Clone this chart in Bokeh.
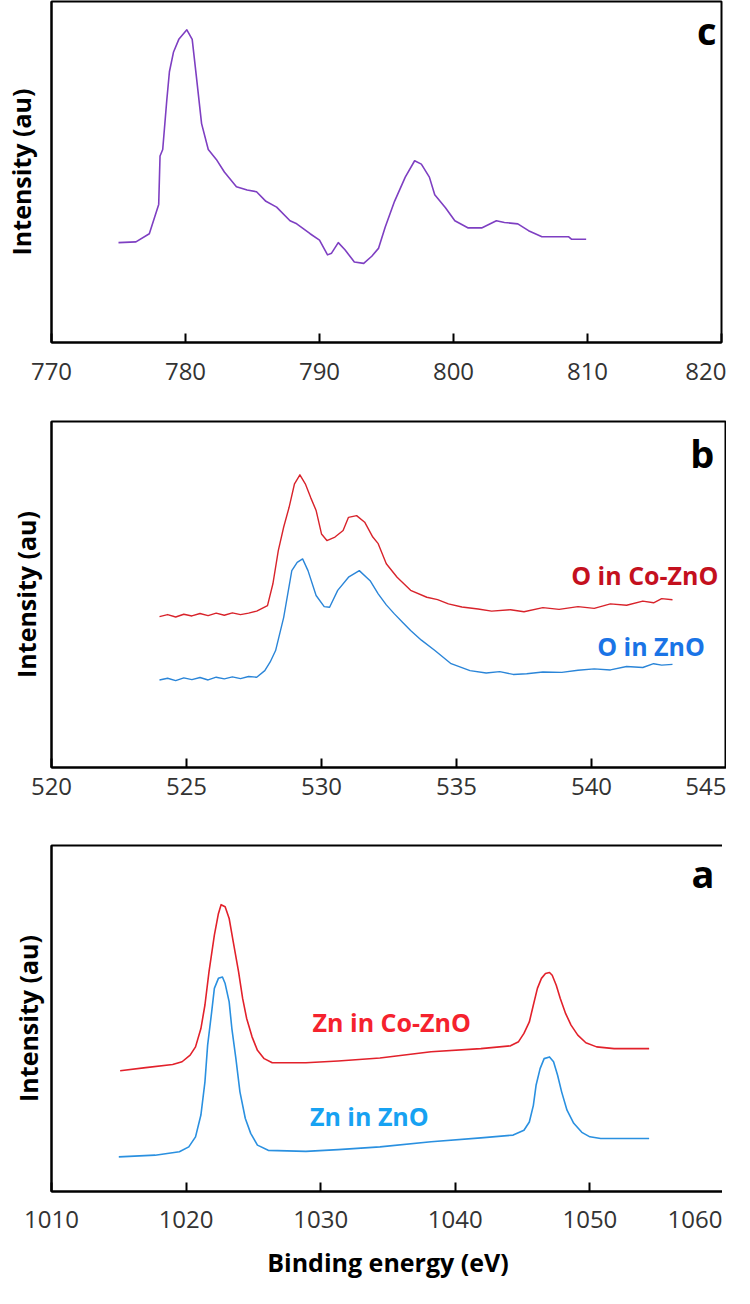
from bokeh.plotting import figure
from bokeh.layouts import column
from bokeh.models import Range1d, FixedTicker, Label
from bokeh.embed import file_html
from bokeh.resources import INLINE

# ---------------- data ----------------
# panel c (Co 2p)
c_x = [775.0, 776.3, 777.3, 778.0, 778.1, 778.3, 778.6, 778.8, 779.1, 779.5, 780.1, 780.5, 780.8, 781.2,
       781.7, 782.3, 782.9, 783.8, 784.6, 785.3, 786.0, 786.8, 787.8, 788.3, 789.3, 790.0, 790.6, 790.9,
       791.4, 791.9, 792.6, 793.3, 793.9, 794.4, 794.9, 795.6, 796.4, 797.1, 797.6, 798.2, 798.6, 799.4,
       800.1, 801.1, 802.1, 803.2, 803.8, 804.8, 805.6, 806.6, 808.6, 808.8, 809.9]
c_y = [29.3, 29.5, 31.9, 40.5, 54.7, 56.6, 70.9, 79.4, 85.1, 88.9, 91.7, 88.9, 78.4, 64.2,
       56.6, 53.7, 50.0, 45.7, 44.7, 44.2, 41.4, 39.7, 35.7, 34.8, 31.9, 30.0, 25.7, 26.2,
       29.3, 27.2, 23.6, 23.2, 25.3, 27.6, 33.8, 41.4, 48.5, 53.3, 52.3, 48.5, 43.3, 39.5,
       35.7, 33.6, 33.6, 35.7, 35.2, 34.8, 32.8, 31.0, 31.0, 30.3, 30.3]
c_ticks = [770, 780, 790, 800, 810, 820]

# panel b (O 1s)
b_co_x = [524.0, 524.3, 524.6, 524.9, 525.2, 525.5, 525.8, 526.1, 526.4, 526.7, 527.0, 527.3, 527.6, 527.8,
          528.0, 528.2, 528.4, 528.6, 528.8, 529.0, 529.2, 529.4, 529.6, 529.8, 530.0, 530.2, 530.5, 530.8,
          531.0, 531.3, 531.6, 531.9, 532.1, 532.4, 532.8, 533.3, 533.9, 534.3, 534.7, 535.2, 535.8, 536.3,
          537.0, 537.5, 538.2, 538.8, 539.5, 540.1, 540.7, 541.3, 541.9, 542.3, 542.6, 543.0]
b_co_y = [43.6, 44.2, 43.5, 44.3, 43.8, 44.5, 43.9, 44.6, 44.0, 44.7, 44.2, 44.6, 45.2, 46.0,
          46.8, 53.1, 62.7, 69.5, 75.2, 82.0, 84.6, 82.0, 78.0, 74.3, 67.5, 65.6, 66.6, 68.5,
          72.3, 72.8, 70.9, 66.6, 64.7, 58.9, 55.0, 51.2, 49.2, 48.5, 47.3, 46.4, 45.8, 45.2,
          45.6, 45.0, 46.2, 45.7, 46.5, 46.0, 47.3, 46.9, 48.1, 47.6, 48.8, 48.5]
b_zn_x = [524.0, 524.3, 524.6, 524.9, 525.2, 525.5, 525.8, 526.1, 526.4, 526.7, 527.0, 527.3, 527.6, 527.9,
          528.1, 528.3, 528.6, 528.9, 529.1, 529.3, 529.5, 529.8, 530.1, 530.3, 530.6, 531.0, 531.4, 531.8,
          532.1, 532.4, 532.7, 533.0, 533.3, 533.7, 534.2, 534.8, 535.5, 536.1, 536.6, 537.1, 537.6, 538.2,
          538.9, 539.5, 540.1, 540.7, 541.3, 541.9, 542.3, 542.6, 543.0]
b_zn_y = [25.3, 25.8, 25.1, 25.9, 25.4, 26.0, 25.3, 26.1, 25.6, 26.2, 25.7, 26.3, 26.1, 28.0,
          30.5, 33.8, 43.4, 56.9, 59.3, 60.3, 56.9, 49.7, 46.5, 46.3, 51.2, 55.0, 56.9, 54.0,
          50.2, 47.0, 44.4, 42.0, 39.6, 36.8, 33.8, 30.0, 28.0, 27.3, 27.7, 26.9, 27.1, 27.6,
          27.5, 28.1, 28.5, 28.2, 29.2, 28.9, 30.0, 29.6, 29.8]
b_ticks = [520, 525, 530, 535, 540, 545]

# panel a (Zn 2p)
a_co_x = [1015.1, 1017.0, 1019.0, 1019.7, 1020.3, 1020.7, 1021.1, 1021.4, 1021.7, 1022.1, 1022.4, 1022.6,
          1022.9, 1023.2, 1023.5, 1023.9, 1024.2, 1024.5, 1024.9, 1025.3, 1025.8, 1026.4, 1028.9, 1031.3,
          1034.4, 1038.2, 1041.9, 1044.1, 1044.7, 1045.1, 1045.5, 1045.8, 1046.1, 1046.4, 1046.7, 1047.0,
          1047.2, 1047.5, 1047.8, 1048.2, 1048.6, 1049.1, 1049.7, 1050.5, 1051.8, 1054.4]
a_co_y = [34.9, 35.8, 36.7, 37.5, 39.4, 41.8, 47.1, 53.9, 63.5, 74.1, 80.3, 82.9,
          82.3, 78.9, 72.2, 63.5, 55.8, 50.0, 44.7, 40.8, 38.4, 37.2, 37.2, 37.7,
          38.6, 40.4, 41.3, 42.1, 43.3, 45.7, 49.0, 53.9, 58.7, 61.6, 63.0, 63.3,
          62.5, 59.6, 55.8, 51.4, 48.1, 45.2, 43.0, 41.8, 41.3, 41.3]
a_zn_x = [1015.0, 1017.7, 1019.5, 1020.2, 1020.7, 1021.1, 1021.4, 1021.6, 1021.9, 1022.1, 1022.4, 1022.7,
          1022.9, 1023.2, 1023.4, 1023.7, 1024.0, 1024.4, 1024.8, 1025.3, 1026.1, 1028.9, 1031.3, 1034.4,
          1038.2, 1041.9, 1044.3, 1045.1, 1045.5, 1045.8, 1046.0, 1046.3, 1046.6, 1047.0, 1047.3, 1047.6,
          1047.9, 1048.3, 1048.8, 1049.4, 1050.0, 1050.8, 1054.4]
a_zn_y = [10.0, 10.5, 11.5, 12.9, 15.8, 22.1, 31.7, 42.3, 51.9, 58.7, 61.6, 62.0,
          60.1, 54.8, 47.1, 38.4, 28.8, 21.1, 16.8, 13.4, 11.9, 11.6, 12.1, 12.9,
          14.4, 15.5, 16.3, 17.7, 20.1, 24.9, 30.7, 35.5, 38.4, 38.9, 37.5, 33.6,
          28.8, 23.5, 19.7, 17.1, 15.8, 15.3, 15.3]
a_ticks = [1010, 1020, 1030, 1040, 1050, 1060]

FONT = "Open Sans"
TICK_FS = "24px"
LAB_FS = "25px"


def make_fig(ticks, fw, fh, left, top, bottom, tick_standoff, ylab_standoff):
    p = figure(frame_width=fw, frame_height=fh,
               x_range=Range1d(ticks[0], ticks[-1]), y_range=Range1d(0, 100),
               output_backend="svg", toolbar_location=None,
               min_border_left=left, min_border_top=top, min_border_bottom=bottom,
               min_border_right=5)
    p.grid.visible = False
    p.outline_line_color = "black"
    p.outline_line_width = 2
    p.background_fill_color = "white"
    p.border_fill_color = "white"
    xa = p.xaxis[0]
    xa.ticker = FixedTicker(ticks=ticks)
    xa.major_tick_in = 9
    xa.major_tick_out = 0
    xa.minor_tick_line_color = None
    xa.axis_line_color = "black"
    xa.axis_line_width = 2
    xa.major_tick_line_color = "black"
    xa.major_tick_line_width = 2
    xa.major_label_text_font = FONT
    xa.major_label_text_font_size = TICK_FS
    xa.major_label_text_color = "#333333"
    xa.major_label_standoff = tick_standoff
    ya = p.yaxis[0]
    ya.ticker = FixedTicker(ticks=[])
    ya.major_tick_line_color = None
    ya.minor_tick_line_color = None
    ya.major_label_text_font_size = "0px"
    ya.major_label_standoff = 0
    ya.axis_line_color = "black"
    ya.axis_line_width = 2
    ya.axis_label = "Intensity (au)"
    ya.axis_label_text_font = FONT
    ya.axis_label_text_font_size = LAB_FS
    ya.axis_label_text_font_style = "bold"
    ya.axis_label_text_color = "black"
    ya.axis_label_standoff = ylab_standoff
    return p


def panel_letter(p, txt, x, y):
    p.add_layout(Label(x=x, y=y, text=txt, text_font=FONT, text_font_size="38px",
                       text_font_style="bold", text_color="black",
                       text_align="center", text_baseline="middle"))


def series_label(p, txt, x, y, color, align):
    p.add_layout(Label(x=x, y=y, text=txt, text_font=FONT, text_font_size=LAB_FS,
                       text_font_style="bold", text_color=color,
                       text_align=align, text_baseline="middle"))


# panel c
pc = make_fig(c_ticks, 670, 341, 47, 1, 54, 20, 14)
pc.line(c_x, c_y, line_color="#7E3FC2", line_width=1.6, line_join="round")
panel_letter(pc, "c", 818.9, 91.6)

# panel b
pb = make_fig(b_ticks, 675, 346, 41, 25, 46, 10, 9)
pb.line(b_co_x, b_co_y, line_color="#D8232B", line_width=1.4, line_join="round")
pb.line(b_zn_x, b_zn_y, line_color="#2A85D8", line_width=1.4, line_join="round")
series_label(pb, "O in Co-ZnO", 544.7, 55.5, "#C4101E", "right")
series_label(pb, "O in ZnO", 544.2, 35.0, "#1A74E6", "right")
panel_letter(pb, "b", 544.1, 91.0)

# panel a
pa = make_fig(a_ticks, 673, 346, 38, 32, 95, 19, 7)
pa.line(a_co_x, a_co_y, line_color="#E2212B", line_width=1.6, line_join="round")
pa.line(a_zn_x, a_zn_y, line_color="#2A90E0", line_width=1.6, line_join="round")
series_label(pa, "Zn in Co-ZnO", 1029.4, 49.1, "#F5222D", "left")
series_label(pa, "Zn in ZnO", 1029.2, 21.7, "#17A2F2", "left")
panel_letter(pa, "a", 1058.4, 92.0)
xa = pa.xaxis[0]
xa.axis_label = "Binding energy (eV)"
xa.axis_label_text_font = FONT
xa.axis_label_text_font_size = LAB_FS
xa.axis_label_text_font_style = "bold"
xa.axis_label_text_color = "black"
xa.axis_label_standoff = 14

layout = column(pc, pb, pa, spacing=0)
open("out.html", "w").write(file_html(layout, INLINE))
